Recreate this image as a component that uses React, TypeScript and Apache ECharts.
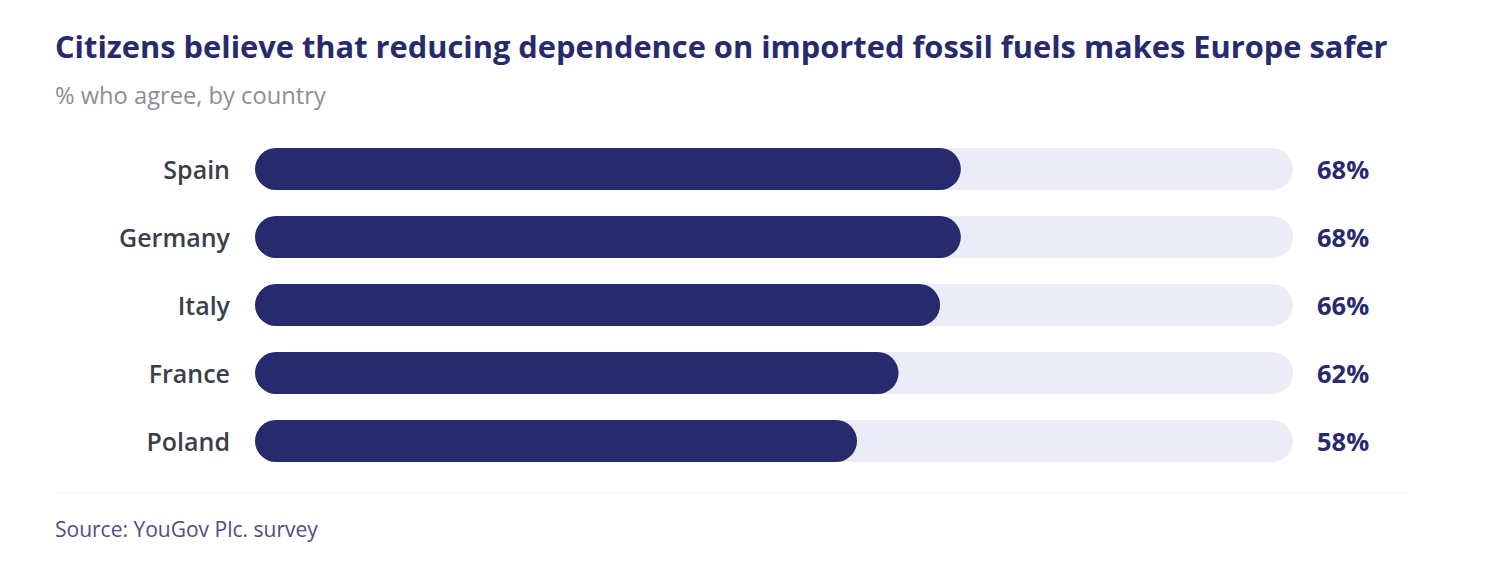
import React, { useEffect, useRef } from "react";
import * as echarts from "echarts";

const countries = ["Spain", "Germany", "Italy", "France", "Poland"];
const agreeValues = [68, 68, 66, 62, 58];
const trackValues = [100, 100, 100, 100, 100];

const titleText = "Citizens believe that reducing dependence on imported fossil fuels makes Europe safer";
const subtitleText = "% who agree, by country";
const sourceText = "Source: YouGov Plc. survey";

const FONT = "'Open Sans', 'Noto Sans', sans-serif";
const NAVY = "#272a6c";
const TRACK = "#ececf6";

export default function App() {
  const ref = useRef<HTMLDivElement>(null);
  useEffect(() => {
    if (!ref.current) return;
    const chart = echarts.init(ref.current, undefined, { renderer: "svg" });
    chart.setOption({
      animation: false,
      backgroundColor: "#ffffff",
      textStyle: { fontFamily: FONT },
      grid: { left: 255, right: 207, top: 135, height: 340, containLabel: false },
      xAxis: { type: "value", min: 0, max: 100, show: false },
      yAxis: {
        type: "category",
        data: countries,
        inverse: true,
        axisLine: { show: false },
        axisTick: { show: false },
        splitLine: { show: false },
        axisLabel: {
          margin: 25,
          fontSize: 25,
          fontWeight: 600,
          color: "#3a3f4c",
          fontFamily: FONT,
          padding: [4, 0, 0, 0],
        },
      },
      series: [
        {
          type: "bar",
          data: trackValues,
          barWidth: 42,
          barGap: "-100%",
          itemStyle: { color: TRACK, borderRadius: 21 },
          label: {
            show: true,
            position: "right",
            distance: 24,
            fontSize: 25.5,
            fontWeight: 700,
            color: NAVY,
            fontFamily: FONT,
            padding: [4, 0, 0, 0],
            formatter: (p: any) => agreeValues[p.dataIndex] + "%",
          },
          silent: true,
          z: 1,
        },
        {
          type: "bar",
          data: agreeValues,
          barWidth: 42,
          barGap: "-100%",
          itemStyle: { color: NAVY, borderRadius: 21 },
          z: 2,
        },
      ],
      graphic: [
        {
          type: "text",
          x: 55,
          y: 46,
          style: {
            text: titleText,
            fontSize: 30.8,
            fontWeight: 700,
            fill: NAVY,
            fontFamily: FONT,
            verticalAlign: "middle",
          },
        },
        {
          type: "text",
          x: 55,
          y: 95,
          style: {
            text: subtitleText,
            fontSize: 23.7,
            fill: "#8a8e98",
            fontFamily: FONT,
            verticalAlign: "middle",
          },
        },
        {
          type: "rect",
          shape: { x: 55, y: 492, width: 1353, height: 1 },
          style: { fill: "#eeeef3" },
        },
        {
          type: "text",
          x: 55,
          y: 529,
          style: {
            text: sourceText,
            fontSize: 21,
            fill: "#4c5080",
            fontFamily: FONT,
            verticalAlign: "middle",
          },
        },
      ],
    });
    return () => chart.dispose();
  }, []);
  return (
    <div
      ref={ref}
      style={{ position: "fixed", left: 0, top: 0, width: 1500, height: 562 }}
    />
  );
}
